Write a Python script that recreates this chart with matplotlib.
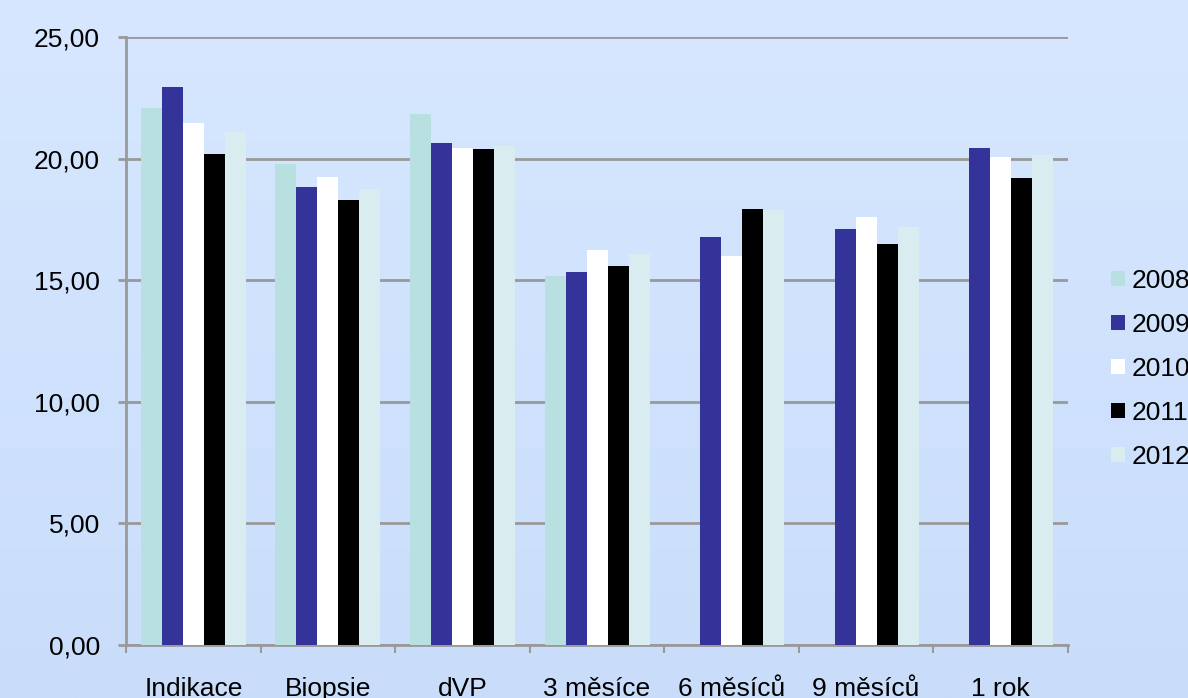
import numpy as np
import matplotlib.pyplot as plt
import matplotlib
from matplotlib.patches import Patch

matplotlib.rcParams['font.family'] = ['Liberation Sans', 'DejaVu Sans']
matplotlib.rcParams['font.size'] = 19

categories = ['Indikace', 'Biopsie', 'dVP', '3 měsíce', '6 měsíců', '9 měsíců', '1 rok']
years = ['2008', '2009', '2010', '2011', '2012']
v2008 = [22.08, 19.78, 21.83, 15.17, 0, 0, 0]
v2009 = [22.94, 18.83, 20.64, 15.34, 16.78, 17.10, 20.44]
v2010 = [21.46, 19.24, 20.44, 16.24, 16.00, 17.60, 20.07]
v2011 = [20.19, 18.30, 20.39, 15.58, 17.93, 16.49, 19.20]
v2012 = [21.09, 18.75, 20.52, 16.08, 17.89, 17.19, 20.15]
series = [v2008, v2009, v2010, v2011, v2012]
colors = ['#b8e0e1', '#333399', '#ffffff', '#000000', '#d9edf1']

fig = plt.figure(figsize=(11.88, 6.98), dpi=100)

# gradient background
bg = fig.add_axes([0, 0, 1, 1], zorder=-10)
grad = np.linspace(0, 1, 256).reshape(-1, 1)
cmap = matplotlib.colors.LinearSegmentedColormap.from_list('bg', ['#d7e7ff', '#c9ddfa'])
bg.imshow(grad, aspect='auto', cmap=cmap, extent=[0, 1, 0, 1], origin='upper')
bg.axis('off')

ax = fig.add_axes([0.1061, 0.0759, 0.7929, 0.8711])
ax.patch.set_alpha(0)

x = np.arange(len(categories))
w = 0.156
for i, (vals, c) in enumerate(zip(series, colors)):
    ax.bar(x + (i - 2) * w, vals, width=w, color=c, zorder=3, label=years[i])

ax.set_ylim(0, 25)
ax.set_xlim(-0.5, len(categories) - 0.5)
ax.set_yticks(np.arange(0, 26, 5))
ax.set_yticklabels([f'{v:.2f}'.replace('.', ',') for v in np.arange(0, 26, 5)])
ax.yaxis.grid(True, color='#999999', linewidth=2, zorder=1)
ax.set_axisbelow(True)

ax.set_xticks(x)
ax.set_xticklabels(categories)
ax.set_xticks(np.arange(-0.5, len(categories), 1), minor=True)
ax.tick_params(axis='x', which='major', length=0, pad=23)
ax.tick_params(axis='x', which='minor', length=6, width=1.5, color='#999999')
ax.tick_params(axis='y', length=5.8, width=2, color='#999999', pad=13)

for s in ['top', 'right']:
    ax.spines[s].set_visible(False)
ax.spines['left'].set_color('#999999')
ax.spines['left'].set_linewidth(2)
ax.spines['bottom'].set_color('#999999')
ax.spines['bottom'].set_linewidth(2)

handles = [Patch(facecolor=c, edgecolor='none') for c in colors]
fig.legend(handles, years, loc='upper left', bbox_to_anchor=(0.935, 0.615),
           frameon=False, handlelength=0.53, handleheight=0.53, handletextpad=0.27,
           labelspacing=0.76, borderpad=0, borderaxespad=0)

fig.savefig('out.png', dpi=100)
